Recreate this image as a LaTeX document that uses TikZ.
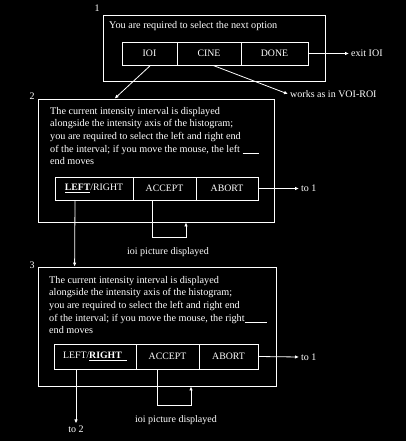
\documentclass[tikz,border=0pt]{standalone}
\usepackage{fontspec}
\setmainfont{Liberation Serif}
\usetikzlibrary{arrows.meta,calc}
\begin{document}
\begin{tikzpicture}[x=1pt,y=-1pt,
  every node/.style={text=white},
  frame/.style={draw=white,line width=0.8pt,inner sep=0pt},
  cell/.style={draw=white,line width=0.8pt,inner sep=0pt,font=\fontsize{9.8}{11}\selectfont},
  para/.style={anchor=north west,align=left,inner sep=0pt,font=\fontsize{10.2}{12.6}\selectfont},
  lbl/.style={inner sep=2pt,font=\fontsize{10}{11}\selectfont},
  conn/.style={draw=white,line width=0.8pt},
  arr/.style={conn,-{Latex[length=4pt,width=3.5pt]}}]
\fill[black] (0,0) rectangle (406,441);
\useasboundingbox (0,0) rectangle (406,441);
% ---- box 1
\node[frame,minimum width=222pt,minimum height=66pt] (b1) at (214,48) {};
\node[lbl] (n1) at (97,8) {1};
\node[para,anchor=west] (t1) at (109,26) {You are required to select the next option};
\node[cell,minimum width=55pt,minimum height=23pt] (ioi) at (149.5,53.5) {IOI};
\node[cell,minimum width=64pt,minimum height=23pt] (cine) at (209,53.5) {CINE};
\node[cell,minimum width=67pt,minimum height=23pt] (done) at (274.5,53.5) {DONE};
\node[lbl,anchor=west] (exit) at (349,53.5) {exit IOI};
\node[lbl,anchor=west] (works) at (288,94) {works as in VOI-ROI};
% ---- box 2
\node[frame,minimum width=236pt,minimum height=123pt] (b2) at (156,160.5) {};
\node[lbl] (n2) at (32,96) {2};
\node[para] (t2) at (50,107) {The current intensity interval is displayed\\
alongside the intensity axis of the histogram;\\
you are required to select the left and right end\\
of the interval; if you move the mouse, the left \rule[-1.5pt]{16pt}{0.5pt}\\
end moves};
\node[cell,minimum width=78pt,minimum height=23pt] (lr2) at (94,188.5) {\underline{\textbf{LEFT}}/RIGHT};
\node[cell,minimum width=63pt,minimum height=23pt] (acc2) at (164.5,188.5) {ACCEPT};
\node[cell,minimum width=62pt,minimum height=23pt] (abo2) at (227,188.5) {ABORT};
\node[lbl,anchor=west] (to1a) at (299,188.5) {to 1};
\node[lbl] (pic2) at (168,252) {ioi picture displayed};
% ---- box 3
\node[frame,minimum width=238pt,minimum height=119pt] (b3) at (157,326.5) {};
\node[lbl] (n3) at (32,265) {3};
\node[para] (t3) at (49,276) {The current intensity interval is displayed\\
alongside the intensity axis of the histogram;\\
you are required to select the left and right end\\
of the interval; if you move the mouse, the right\rule[-1.5pt]{22pt}{0.5pt}\\
end moves};
\node[cell,minimum width=82pt,minimum height=25pt] (lr3) at (95,356.5) {LEFT/\underline{\textbf{RIGHT}\hspace{5pt}}};
\node[cell,minimum width=63pt,minimum height=25pt] (acc3) at (167.5,356.5) {ACCEPT};
\node[cell,minimum width=59pt,minimum height=25pt] (abo3) at (228.5,356.5) {ABORT};
\node[lbl,anchor=west] (to1b) at (299,357) {to 1};
\node[lbl] (pic3) at (176,420) {ioi picture displayed};
\node[lbl] (to2) at (76,429) {to 2};
% ---- connectors
\draw[arr] (done.east) -- (exit.west);
\draw[arr] ([xshift=1pt]ioi.south) -- ($(b2.north west)+(77,0)$);
\draw[arr] ([xshift=4pt]cine.south) -- (works.west);
\draw[arr] (abo2.east) -- (to1a.west);
\draw[arr] ([xshift=-19pt]lr2.south) -- ($(b3.north west)+(37,0)$);
\draw[arr] ([xshift=-12.5pt]acc2.south) |- ++(34,37) coordinate (c2) -- (c2 |- b2.south);
\draw[arr] (abo3.east) -- (to1b.west);
\draw[arr] ([xshift=-19pt]lr3.south) -- (to2.north);
\draw[arr] ([xshift=-10.5pt]acc3.south) |- ++(34,36) coordinate (c3) -- (c3 |- b3.south);
\end{tikzpicture}
\end{document}
